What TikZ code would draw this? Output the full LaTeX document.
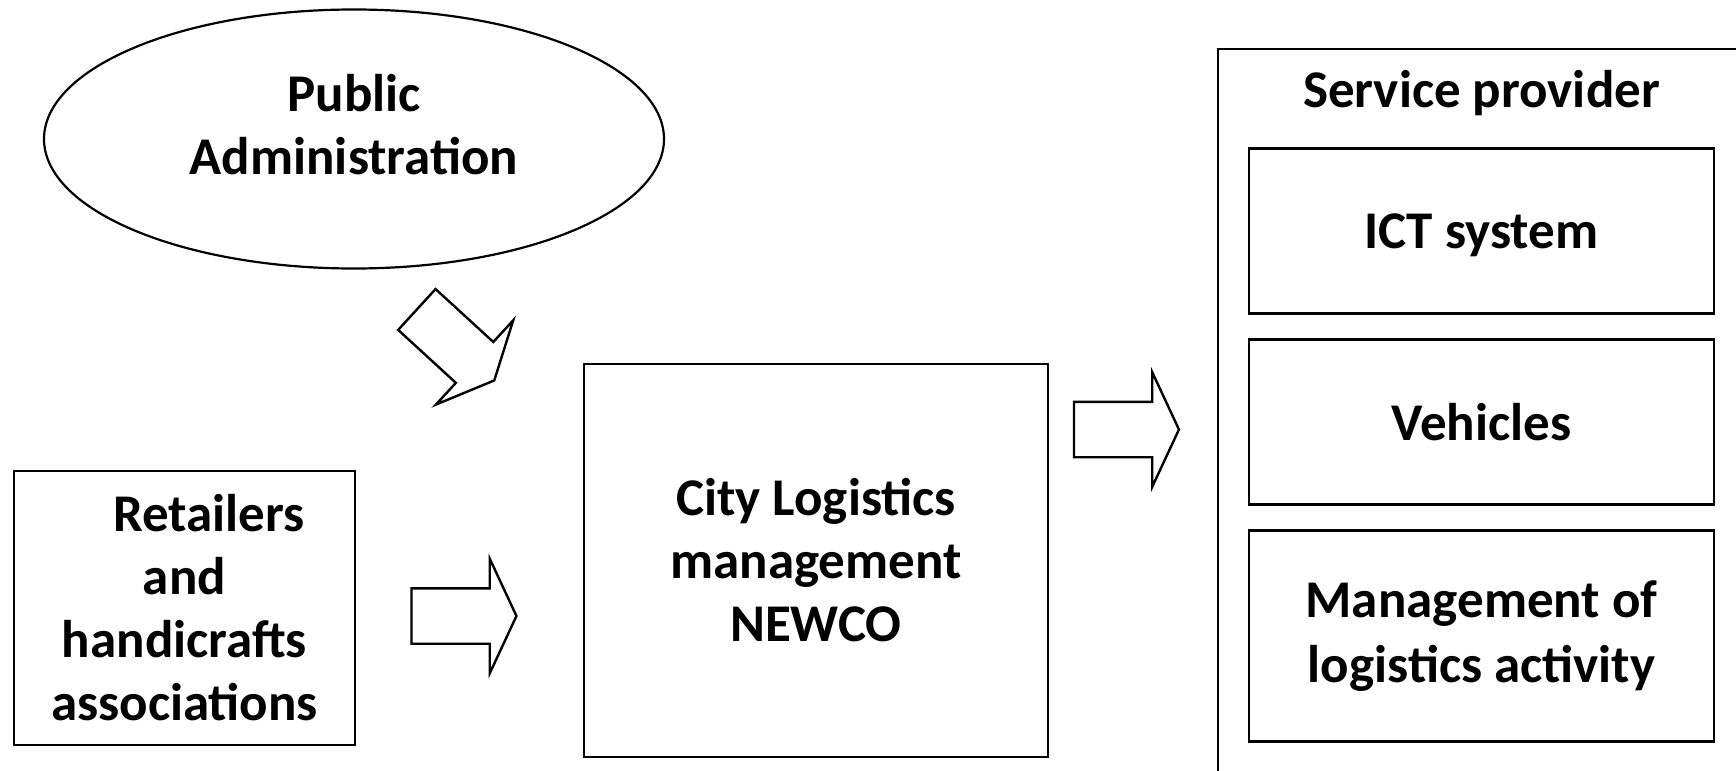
\documentclass[tikz,border=0pt]{standalone}
\usepackage{fontspec}
\setmainfont{Carlito}
\usetikzlibrary{shapes.geometric,shapes.arrows,positioning}
\tikzset{box/.style={rectangle,draw,line width=1.2pt,outer sep=0pt,align=center},
         oval/.style={ellipse,draw,line width=1.1pt,inner sep=0pt,minimum width=310pt,minimum height=129.5pt},
         blockarrow/.style={single arrow,draw,line width=1.2pt,minimum height=52.5pt,inner xsep=0pt,inner ysep=13.25pt,
                            single arrow head extend=14.75pt,single arrow tip angle=130}
}

\begin{document}
\begin{tikzpicture}[x=0.5pt,y=-0.5pt,
every node/.style={font=\fontsize{26.5}{31.5}\selectfont\bfseries}]
\useasboundingbox (0,0) rectangle (1736,771);
\clip (0,0) rectangle (1736,771);

% left side
\node [oval, label={[align=center,yshift=7.25pt]center:Public\\Administration}] (pa) at (354,139) {};
\node [box, minimum width=170.5pt, minimum height=137pt] (ret) at (184.5,608)
    {\hspace*{24.5pt}Retailers\\and\\handicrafts\\associations};

% middle
\node [box, minimum width=232pt, minimum height=196.5pt] (clm) at (816,560.5)
    {City Logistics\\management\\NEWCO};

% service provider
\node [box, minimum width=263.5pt, minimum height=375.5pt] (sp) at (1481.5,424.5) {};
\node (sptitle) at (1481.5,93) {Service provider};
\node [box, minimum width=232.5pt, minimum height=82.5pt, text depth=0pt] (ict) at (1481.5,231) {ICT system};
\node [box, minimum width=232.5pt, minimum height=82.5pt, below=13pt of ict] (veh) {Vehicles};
\node [box, minimum width=232.5pt, minimum height=105.5pt, below=13pt of veh,
       font=\fontsize{26.5}{32.5}\selectfont\bfseries] (mgt) {Management of\\logistics activity};

% arrows
\node [blockarrow, rotate=-42.5] (arr1) at (450.8,340.6) {};
\node [blockarrow] (arr2) at (457.5,616) {};
\node [blockarrow] (arr3) at (1120,429.5) {};
\end{tikzpicture}
\end{document}
